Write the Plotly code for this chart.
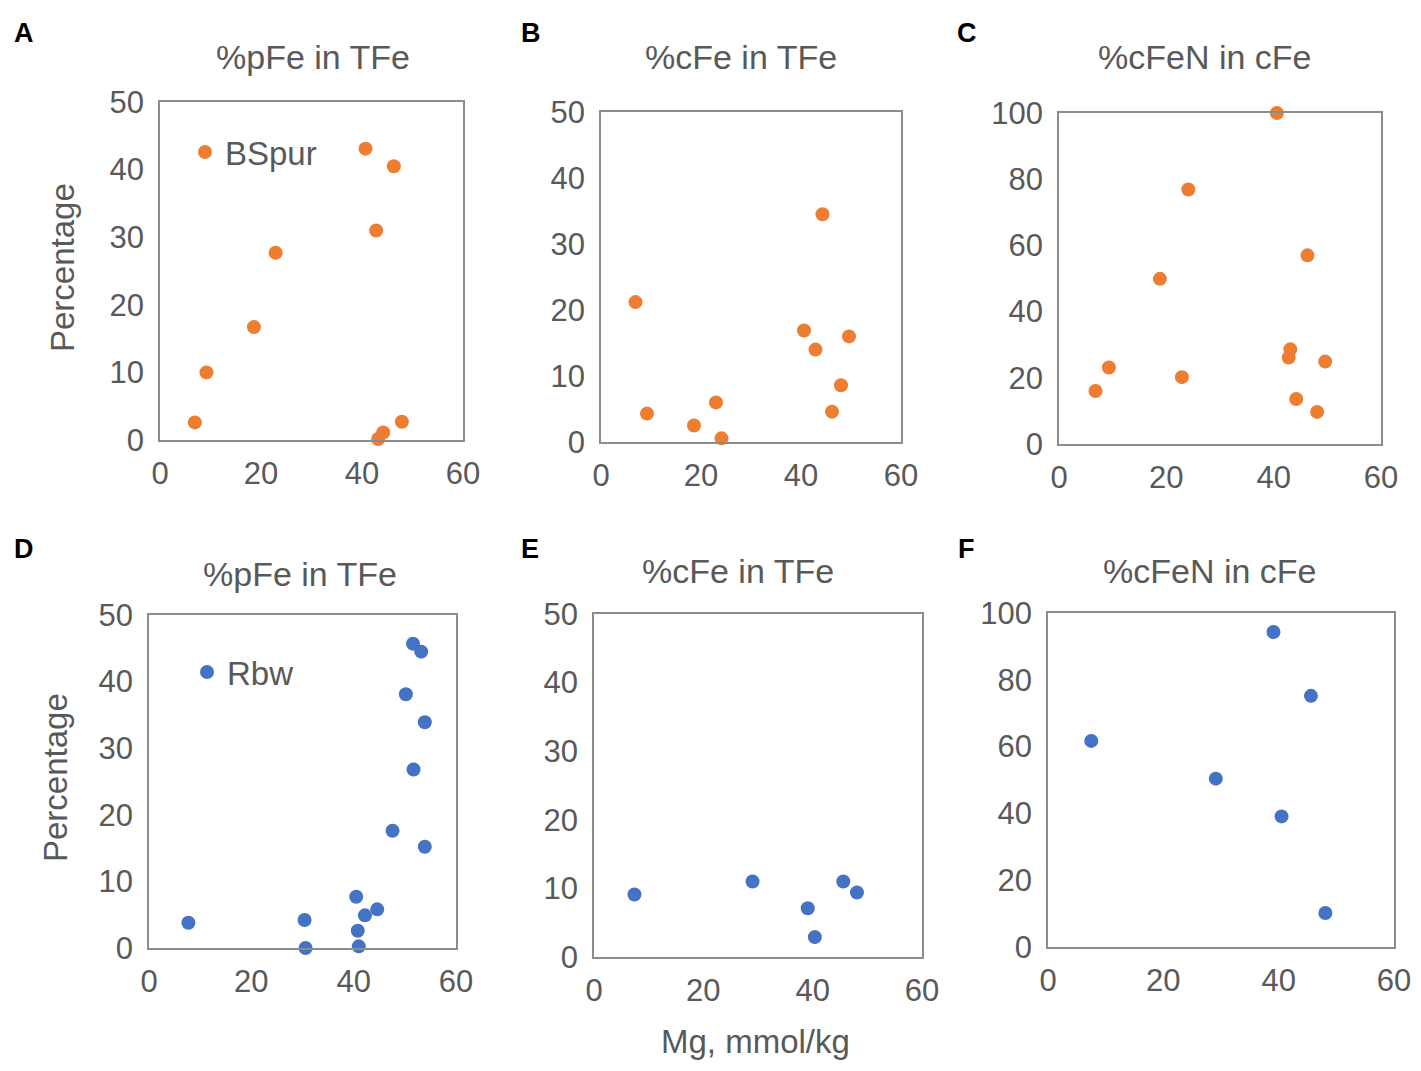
import plotly.graph_objects as go

# Mg, mmol/kg vs percentages, BSpur (top row) and Rbw (bottom row)
a_mg = [6.9, 9.2, 18.6, 22.9, 40.7, 46.3, 42.8, 43.2, 44.2, 47.9]
a_pfe = [2.6, 10.0, 16.7, 27.7, 43.1, 40.5, 31.0, 0.15, 1.1, 2.7]

b_mg = [6.9, 9.2, 18.6, 23.0, 24.1, 40.6, 42.9, 44.3, 46.2, 48.0, 49.6]
b_cfe = [21.2, 4.3, 2.5, 6.0, 0.55, 16.9, 14.0, 34.5, 4.6, 8.6, 16.0]

c_mg = [40.6, 24.1, 46.3, 18.8, 43.1, 42.8, 49.6, 9.3, 22.9, 6.8, 44.2, 48.1]
c_cfen = [100.0, 76.9, 57.0, 49.9, 28.6, 26.1, 24.9, 23.1, 20.2, 16.0, 13.6, 9.7]

d_mg = [7.7, 30.4, 30.6, 40.5, 40.8, 41.0, 42.2, 44.6, 47.6, 50.2, 51.6, 53.2, 53.9, 51.7, 53.9]
d_pfe = [3.8, 4.2, 0.0, 7.7, 2.6, 0.25, 4.9, 5.8, 17.6, 38.1, 45.7, 44.5, 33.9, 26.8, 15.2]

e_mg = [7.4, 29.0, 39.1, 40.4, 45.6, 48.1]
e_cfe = [9.1, 11.0, 7.1, 2.9, 11.0, 9.4]

f_mg = [7.5, 29.1, 39.1, 40.5, 45.6, 48.1]
f_cfen = [61.7, 50.4, 94.3, 39.1, 75.2, 10.2]

titles = ["%pFe in TFe", "%cFe in TFe", "%cFeN in cFe",
          "%pFe in TFe", "%cFe in TFe", "%cFeN in cFe"]
letters = ["A", "B", "C", "D", "E", "F"]
y_max = [50, 50, 100, 50, 50, 100]
y_step = [10, 10, 20, 10, 10, 20]

ORANGE = "#ED7D31"
BLUE = "#4472C4"
TEXT = "#595959"
BOX = "#8c8c8c"
FONT = "Liberation Sans, Arial, sans-serif"

# page body has an 8px margin, so the figure is a bit smaller than the window
OFF = 8
W, H = 1421 - 2 * OFF, 1071 - 2 * OFF


def px(x):
    return (x - OFF) / W


def py(y):
    return 1 - (y - OFF) / H


# plot boxes in window pixels: left, right, top, bottom
boxes = [
    (160, 463, 102, 440),
    (601, 901, 112, 442),
    (1059, 1381, 113, 444),
    (149, 456, 615, 948),
    (594, 922, 614, 957),
    (1048, 1394, 613, 947),
]
title_pos = [(313, 57), (741, 57), (1205, 57), (300, 574), (738, 571), (1210, 571)]
letter_pos = [(24, 33), (531, 33), (967, 33), (24, 549), (530, 549), (966, 549)]

series = [
    (a_mg, a_pfe, ORANGE, "BSpur", "legend"),
    (b_mg, b_cfe, ORANGE, None, None),
    (c_mg, c_cfen, ORANGE, None, None),
    (d_mg, d_pfe, BLUE, "Rbw", "legend2"),
    (e_mg, e_cfe, BLUE, None, None),
    (f_mg, f_cfen, BLUE, None, None),
]

fig = go.Figure()
layout = {}
annotations = []

for i, (xs, ys, color, name, leg) in enumerate(series):
    n = i + 1
    sfx = "" if n == 1 else str(n)
    fig.add_trace(go.Scatter(
        x=xs, y=ys, mode="markers",
        marker=dict(size=14, color=color),
        name=name or "", showlegend=name is not None,
        legend=leg if leg else "legend",
        xaxis="x" + sfx, yaxis="y" + sfx,
        cliponaxis=False,
    ))
    l, r, t, b = boxes[i]
    common = dict(
        showline=True, linecolor=BOX, linewidth=1.5, mirror=True,
        showgrid=False, zeroline=False, ticks="", automargin=False,
        tickfont=dict(family=FONT, size=31, color=TEXT),
    )
    layout["xaxis" + sfx] = dict(
        common, domain=[px(l), px(r)], range=[0, 60], dtick=20, tick0=0,
        anchor="y" + sfx, ticklabelstandoff=5,
    )
    layout["yaxis" + sfx] = dict(
        common, domain=[py(b), py(t)], range=[0, y_max[i]],
        dtick=y_step[i], tick0=0, anchor="x" + sfx, ticklabelstandoff=8,
    )
    tx, ty = title_pos[i]
    annotations.append(dict(
        text=titles[i], x=px(tx), y=py(ty), xref="paper", yref="paper",
        showarrow=False, font=dict(family=FONT, size=34, color=TEXT),
        xanchor="center", yanchor="middle",
    ))
    lx, ly = letter_pos[i]
    annotations.append(dict(
        text="<b>" + letters[i] + "</b>", x=px(lx), y=py(ly),
        xref="paper", yref="paper", showarrow=False,
        font=dict(family=FONT, size=27, color="black"),
        xanchor="center", yanchor="middle",
    ))

annotations += [
    dict(text="Percentage", x=px(62), y=py(268), textangle=-90),
    dict(text="Percentage", x=px(55), y=py(778), textangle=-90),
    dict(text="Mg, mmol/kg", x=px(755), y=py(1041)),
]
for ann in annotations[-3:]:
    ann.update(xref="paper", yref="paper", showarrow=False,
               font=dict(family=FONT, size=33, color=TEXT),
               xanchor="center", yanchor="middle")

leg_font = dict(family=FONT, size=33, color=TEXT)
fig.update_layout(
    **layout,
    annotations=annotations,
    legend=dict(x=px(185), y=py(152), xanchor="left", yanchor="middle",
                font=leg_font, bgcolor="rgba(0,0,0,0)"),
    legend2=dict(x=px(187), y=py(672), xanchor="left", yanchor="middle",
                 font=leg_font, bgcolor="rgba(0,0,0,0)"),
    width=W, height=H,
    margin=dict(l=0, r=0, t=0, b=0),
    paper_bgcolor="white", plot_bgcolor="white",
)

fig.write_html("out.html")
